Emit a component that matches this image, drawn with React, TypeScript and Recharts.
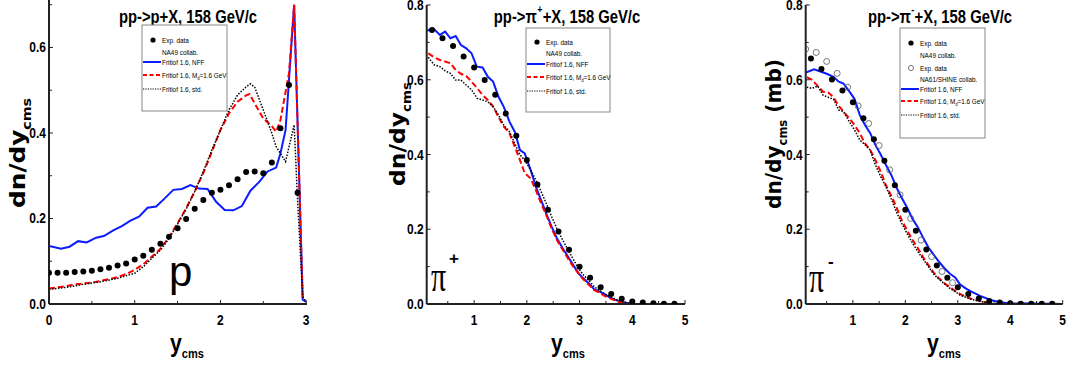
import React from 'react';
import { ComposedChart, Line, Scatter, XAxis, YAxis } from 'recharts';

// ---- panel 1: pp -> p + X ----
const pExpX = [0, 0.1, 0.2, 0.3, 0.4, 0.5, 0.6, 0.7, 0.8, 0.9, 1.0, 1.1, 1.2, 1.3, 1.4, 1.5, 1.6, 1.7, 1.8, 1.9, 2.0, 2.1, 2.2, 2.3, 2.4, 2.5, 2.6, 2.7, 2.8, 2.9];
const pExpY = [0.073, 0.073, 0.073, 0.075, 0.076, 0.078, 0.081, 0.085, 0.09, 0.095, 0.104, 0.113, 0.127, 0.141, 0.157, 0.177, 0.199, 0.223, 0.243, 0.26, 0.267, 0.278, 0.292, 0.309, 0.31, 0.306, 0.331, 0.411, 0.512, 0.26];
const pNffX = [0, 0.14, 0.24, 0.34, 0.44, 0.55, 0.64, 0.75, 0.85, 0.95, 1.05, 1.15, 1.25, 1.35, 1.45, 1.55, 1.65, 1.75, 1.85, 1.95, 2.05, 2.15, 2.25, 2.35, 2.45, 2.55, 2.65, 2.7, 2.76, 2.86, 2.96, 3.0];
const pNffY = [0.136, 0.129, 0.134, 0.147, 0.144, 0.155, 0.159, 0.172, 0.182, 0.195, 0.204, 0.225, 0.228, 0.247, 0.267, 0.269, 0.278, 0.27, 0.269, 0.239, 0.22, 0.219, 0.229, 0.265, 0.285, 0.31, 0.319, 0.352, 0.407, 0.7, 0.01, 0.005];
const pMdX = [0, 0.1, 0.2, 0.3, 0.4, 0.5, 0.6, 0.7, 0.8, 0.9, 1.0, 1.1, 1.2, 1.3, 1.4, 1.5, 1.6, 1.7, 1.8, 1.9, 2.0, 2.1, 2.2, 2.3, 2.34, 2.4, 2.5, 2.6, 2.65, 2.7, 2.8, 2.86, 2.96];
const pMdY = [0.036, 0.039, 0.042, 0.046, 0.048, 0.05, 0.054, 0.058, 0.063, 0.07, 0.08, 0.093, 0.111, 0.129, 0.156, 0.189, 0.224, 0.263, 0.306, 0.356, 0.407, 0.446, 0.473, 0.488, 0.491, 0.469, 0.434, 0.416, 0.403, 0.43, 0.54, 0.7, 0.01];
const pStdX = [0, 0.2, 0.4, 0.6, 0.8, 1.0, 1.1, 1.2, 1.3, 1.4, 1.5, 1.6, 1.7, 1.8, 1.9, 2.0, 2.1, 2.2, 2.3, 2.35, 2.4, 2.5, 2.6, 2.65, 2.76, 2.86, 2.9, 2.96, 3.0];
const pStdY = [0.034, 0.039, 0.046, 0.052, 0.06, 0.072, 0.087, 0.107, 0.126, 0.153, 0.187, 0.222, 0.263, 0.31, 0.36, 0.407, 0.454, 0.489, 0.508, 0.515, 0.507, 0.454, 0.399, 0.368, 0.333, 0.419, 0.243, 0.017, 0.005];

// ---- panel 2: pp -> pi+ + X ----
const expGridX = [0.2, 0.4, 0.6, 0.8, 1.0, 1.2, 1.4, 1.6, 1.8, 2.0, 2.2, 2.4, 2.6, 2.8, 3.0, 3.2, 3.4, 3.6, 3.8, 4.0, 4.2, 4.4, 4.6, 4.8];
const pipExpY = [0.733, 0.711, 0.69, 0.662, 0.633, 0.599, 0.56, 0.51, 0.45, 0.385, 0.32, 0.252, 0.194, 0.145, 0.1, 0.07, 0.045, 0.027, 0.014, 0.007, 0.004, 0.002, 0.001, 0.001];
const pipNffX = [0.1, 0.23, 0.35, 0.45, 0.55, 0.65, 0.75, 0.85, 0.95, 1.05, 1.16, 1.26, 1.36, 1.46, 1.56, 1.67, 1.77, 1.87, 1.96, 2.07, 2.17, 2.27, 2.38, 2.47, 2.57, 2.68, 2.78, 2.88, 2.98, 3.07, 3.18, 3.28, 3.38, 3.48, 3.58, 3.68, 3.78, 3.89, 3.99, 5.0];
const pipNffY = [0.731, 0.737, 0.72, 0.729, 0.711, 0.717, 0.693, 0.684, 0.671, 0.635, 0.633, 0.608, 0.595, 0.555, 0.528, 0.488, 0.461, 0.412, 0.403, 0.359, 0.314, 0.278, 0.238, 0.207, 0.176, 0.149, 0.127, 0.104, 0.082, 0.069, 0.054, 0.039, 0.033, 0.026, 0.017, 0.011, 0.006, 0.003, 0.001, 0];
const pipModX = [0.13, 0.24, 0.35, 0.45, 0.55, 0.65, 0.75, 0.85, 0.95, 1.06, 1.16, 1.26, 1.36, 1.46, 1.56, 1.67, 1.77, 1.87, 1.96, 2.07, 2.17, 2.27, 2.38, 2.47, 2.57, 2.68, 2.78, 2.88, 2.98, 3.07, 3.18, 3.28, 3.38, 3.48, 3.58, 3.68, 3.78, 3.89, 3.99];
const pipMdY = [0.671, 0.66, 0.653, 0.649, 0.644, 0.626, 0.616, 0.61, 0.595, 0.577, 0.559, 0.546, 0.528, 0.501, 0.475, 0.457, 0.421, 0.385, 0.35, 0.336, 0.305, 0.269, 0.234, 0.202, 0.171, 0.145, 0.122, 0.1, 0.082, 0.066, 0.051, 0.037, 0.03, 0.021, 0.015, 0.009, 0.004, 0.002, 0];
const pipStdY = [0.66, 0.64, 0.635, 0.624, 0.617, 0.599, 0.599, 0.586, 0.573, 0.55, 0.546, 0.541, 0.528, 0.506, 0.479, 0.461, 0.43, 0.399, 0.385, 0.359, 0.332, 0.301, 0.265, 0.234, 0.202, 0.171, 0.145, 0.12, 0.095, 0.078, 0.062, 0.046, 0.036, 0.027, 0.02, 0.013, 0.008, 0.004, 0.002];

// ---- panel 3: pp -> pi- + X ----
const pimExpY = [0.657, 0.629, 0.601, 0.571, 0.54, 0.497, 0.441, 0.383, 0.318, 0.252, 0.196, 0.146, 0.103, 0.07, 0.045, 0.027, 0.015, 0.008, 0.004, 0.002, 0.001, 0.001, 0.001, 0.001];
const pimShineX = [0.1, 0.3, 0.5, 0.7, 0.9, 1.1, 1.3, 1.5, 1.7, 1.9, 2.1, 2.3, 2.5, 2.7, 2.9];
const pimShineY = [0.682, 0.673, 0.649, 0.617, 0.58, 0.53, 0.483, 0.424, 0.359, 0.292, 0.229, 0.171, 0.127, 0.087, 0.057];
const pimNffX = [0.1, 0.19, 0.26, 0.38, 0.5, 0.63, 0.73, 0.82, 0.92, 1.03, 1.13, 1.23, 1.33, 1.43, 1.53, 1.63, 1.74, 1.84, 1.93, 2.03, 2.14, 2.24, 2.34, 2.44, 2.54, 2.64, 2.75, 2.85, 2.95, 3.04, 3.15, 3.25, 3.35, 3.45, 3.55, 3.65, 3.76, 3.86, 3.96, 5.0];
const pimNffY = [0.619, 0.624, 0.628, 0.622, 0.616, 0.608, 0.595, 0.59, 0.571, 0.549, 0.506, 0.479, 0.457, 0.425, 0.4, 0.372, 0.343, 0.309, 0.284, 0.259, 0.227, 0.205, 0.177, 0.151, 0.132, 0.113, 0.095, 0.081, 0.071, 0.053, 0.042, 0.034, 0.027, 0.02, 0.015, 0.01, 0.006, 0.004, 0.002, 0];
const pimModX = [0.12, 0.22, 0.33, 0.43, 0.53, 0.63, 0.73, 0.82, 0.93, 1.03, 1.13, 1.23, 1.33, 1.43, 1.53, 1.63, 1.74, 1.84, 1.93, 2.03, 2.14, 2.24, 2.34, 2.44, 2.54, 2.64, 2.75, 2.85, 2.95, 3.04, 3.15, 3.25, 3.35, 3.45, 3.55, 3.65, 3.76];
const pimMdY = [0.607, 0.6, 0.583, 0.568, 0.566, 0.553, 0.53, 0.515, 0.497, 0.479, 0.457, 0.43, 0.412, 0.385, 0.354, 0.318, 0.287, 0.256, 0.225, 0.198, 0.171, 0.149, 0.125, 0.104, 0.084, 0.069, 0.055, 0.045, 0.035, 0.027, 0.02, 0.014, 0.011, 0.007, 0.004, 0.001, 0];
const pimStdY = [0.58, 0.577, 0.583, 0.559, 0.553, 0.548, 0.519, 0.515, 0.488, 0.466, 0.439, 0.426, 0.412, 0.372, 0.341, 0.314, 0.278, 0.243, 0.216, 0.189, 0.162, 0.14, 0.12, 0.1, 0.08, 0.066, 0.054, 0.042, 0.033, 0.024, 0.018, 0.013, 0.009, 0.006, 0.004, 0.002, 0.001];

// ticks
const pXTicks = [0, 0.5, 1, 1.5, 2, 2.5, 3];
const pYTicks = [0, 0.1, 0.2, 0.3, 0.4, 0.5, 0.6, 0.7];
const piXTicks = [0.5, 1, 1.5, 2, 2.5, 3, 3.5, 4, 4.5, 5];
const piYTicks = [0, 0.1, 0.2, 0.3, 0.4, 0.5, 0.6, 0.7, 0.8];

const legendP = ['Exp. data', 'NA49 collab.', 'Fritiof 1.6, NFF', 'Fritiof 1.6, M', 'Fritiof 1.6, std.'];
const legendPim = ['Exp. data', 'NA49 collab.', 'Exp. data', 'NA61/SHINE collab.', 'Fritiof 1.6, NFF', 'Fritiof 1.6, M', 'Fritiof 1.6, std.'];

const zip = (xs: number[], ys: number[]) => xs.map((x, i) => ({ x, y: ys[i] }));

const SANS = '"Liberation Sans", Arial, sans-serif';
const WIDE = '"DejaVu Sans", Verdana, sans-serif';
const BLUE = '#0b1cff';
const RED = '#ff0000';
const AXIS = '#222';

const XTick = (props: any) => {
  const { x, y, payload } = props;
  const v = payload.value;
  const major = Math.abs(v - Math.round(v)) < 1e-6;
  return (
    <g>
      <line x1={x} x2={x} y1={y} y2={y - (major ? 4 : 3)} stroke={AXIS} strokeWidth={1} />
      {major && (
        <text transform={`translate(${x},${y + 21}) scale(0.8,1)`} textAnchor="middle" fontFamily={SANS} fontWeight="bold" fontSize={15} fill="#000">
          {v}
        </text>
      )}
    </g>
  );
};

const YTick = (props: any) => {
  const { x, y, payload } = props;
  const v = payload.value;
  const major = Math.round(v * 10) % 2 === 0;
  return (
    <g>
      <line x1={x} x2={x + (major ? 4 : 3)} y1={y} y2={y} stroke={AXIS} strokeWidth={1} />
      {major && (
        <text transform={`translate(${x - 3},${y + 5}) scale(0.8,1)`} textAnchor="end" fontFamily={SANS} fontWeight="bold" fontSize={15} fill="#000">
          {v.toFixed(1)}
        </text>
      )}
    </g>
  );
};

const dot = (props: any) => <circle cx={props.cx} cy={props.cy} r={3} fill="#000" />;
const ring = (props: any) => <circle cx={props.cx} cy={props.cy} r={3} fill="none" stroke="#555" strokeWidth={0.8} />;

type PanelProps = {
  left: number;
  width: number;
  margin: { top: number; left: number; right: number; bottom: number };
  xDomain: [number, number];
  yDomain: [number, number];
  xTicks: number[];
  yTicks: number[];
  children: React.ReactNode;
};

function Panel({ left, width, margin, xDomain, yDomain, xTicks, yTicks, children }: PanelProps) {
  return (
    <div style={{ position: 'absolute', left, top: 0 }}>
      <ComposedChart width={width} height={370} margin={margin}>
        <XAxis
          type="number"
          dataKey="x"
          domain={xDomain}
          ticks={xTicks}
          allowDataOverflow
          axisLine={{ stroke: AXIS, strokeWidth: 2 }}
          tickLine={false}
          tickSize={0}
          tickMargin={0}
          height={30}
          tick={<XTick />}
          interval={0}
        />
        <YAxis
          type="number"
          domain={yDomain}
          ticks={yTicks}
          allowDataOverflow
          axisLine={{ stroke: AXIS, strokeWidth: 2 }}
          tickLine={false}
          tickSize={0}
          tickMargin={0}
          width={40}
          tick={<YTick />}
          interval={0}
        />
        {children}
      </ComposedChart>
    </div>
  );
}

function LegendBox({ x, y, w, h, items, kinds, rows, textX }: { x: number; y: number; w: number; h: number; items: string[]; kinds: string[]; rows: number[]; textX: number }) {
  return (
    <g>
      <rect x={x} y={y} width={w} height={h} fill="#fff" stroke="#888" strokeWidth={1} />
      {items.map((t, i) => {
        const ry = rows[i];
        const k = kinds[i];
        return (
          <g key={i}>
            {k === 'dot' && <circle cx={x + 11} cy={ry} r={2.6} fill="#000" />}
            {k === 'ring' && <circle cx={x + 11} cy={ry} r={2.6} fill="none" stroke="#555" strokeWidth={0.8} />}
            {k === 'nff' && <line x1={x + 1} x2={textX - 1} y1={ry} y2={ry} stroke={BLUE} strokeWidth={2} />}
            {k === 'md' && <line x1={x + 1} x2={textX - 1} y1={ry} y2={ry} stroke={RED} strokeWidth={2} strokeDasharray="4 2.5" />}
            {k === 'std' && <line x1={x + 1} x2={textX - 1} y1={ry} y2={ry} stroke="#000" strokeWidth={1.2} strokeDasharray="1.2 1.2" />}
            <text transform={`translate(${textX},${ry + 2.5}) scale(0.85,1)`} fontFamily={SANS} fontSize={7.5} fill="#000">
              {t}
              {k === 'md' && (
                <>
                  <tspan dy={2} fontSize={4.5}>d</tspan>
                  <tspan dy={-2}>=1.6 GeV</tspan>
                </>
              )}
            </text>
          </g>
        );
      })}
    </g>
  );
}

function Title({ cx, sup }: { cx: number; sup?: string }) {
  return (
    <text transform={`translate(${cx},23) scale(0.8,1)`} textAnchor="middle" fontFamily={SANS} fontWeight="bold" fontSize={18.5} fill="#000">
      {sup ? (
        <>
          pp-&gt;π<tspan dx={0.5} dy={-10} fontSize={11}>{sup}</tspan>
          <tspan dx={0.5} dy={10}>+X, 158 GeV/c</tspan>
        </>
      ) : (
        'pp->p+X, 158 GeV/c'
      )}
    </text>
  );
}

function YLabel({ x, y, len, extra }: { x: number; y: number; len: number; extra?: string }) {
  return (
    <text transform={`translate(${x},${y}) rotate(-90)`} fontFamily={WIDE} fontWeight="bold" fontSize={21} fill="#000" textLength={len} lengthAdjust="spacingAndGlyphs">
      dn/dy
      <tspan dy={6} fontSize={12}>cms</tspan>
      {extra && <tspan dy={-6} fontSize={21}>{extra}</tspan>}
    </text>
  );
}

function XLabel({ x, y }: { x: number; y: number }) {
  return (
    <text transform={`translate(${x},${y}) scale(0.85,1)`} fontFamily={SANS} fontWeight="bold" fontSize={25} fill="#000">
      y
      <tspan dy={6} fontSize={13}>cms</tspan>
    </text>
  );
}

export default function App() {
  const pExp = zip(pExpX, pExpY);
  const pNff = zip(pNffX, pNffY);
  const pMd = zip(pMdX, pMdY);
  const pStd = zip(pStdX, pStdY);
  const pipExp = zip(expGridX, pipExpY);
  const pipNff = zip(pipNffX, pipNffY);
  const pipMd = zip(pipModX, pipMdY);
  const pipStd = zip(pipModX, pipStdY);
  const pimExp = zip(expGridX, pimExpY);
  const pimShine = zip(pimShineX, pimShineY);
  const pimNff = zip(pimNffX, pimNffY);
  const pimMd = zip(pimModX, pimMdY);
  const pimStd = zip(pimModX, pimStdY);

  const lineProps = { dataKey: 'y', dot: false, isAnimationActive: false, type: 'linear' as const };

  return (
    <div style={{ position: 'absolute', left: 0, top: 0, width: 1069, height: 370, background: '#fff', overflow: 'hidden' }}>
      <Panel left={0} width={330} margin={{ top: 0, left: 9, right: 23, bottom: 36 }} xDomain={[0, 3.01]} yDomain={[0, 0.711]} xTicks={pXTicks} yTicks={pYTicks}>
        <Line {...lineProps} data={pNff} stroke={BLUE} strokeWidth={2} />
        <Line {...lineProps} data={pMd} stroke={RED} strokeWidth={2} strokeDasharray="6 3" />
        <Line {...lineProps} data={pStd} stroke="#000" strokeWidth={1.5} strokeDasharray="1.5 1.5" />
        <Scatter data={pExp} dataKey="y" shape={dot} isAnimationActive={false} />
      </Panel>
      <Panel left={360} width={340} margin={{ top: 5, left: 26.7, right: 15, bottom: 36 }} xDomain={[0.1, 5]} yDomain={[0, 0.8]} xTicks={piXTicks} yTicks={piYTicks}>
        <Line {...lineProps} data={pipNff} stroke={BLUE} strokeWidth={2} />
        <Line {...lineProps} data={pipMd} stroke={RED} strokeWidth={2} strokeDasharray="6 3" />
        <Line {...lineProps} data={pipStd} stroke="#000" strokeWidth={1.5} strokeDasharray="1.5 1.5" />
        <Scatter data={pipExp} dataKey="y" shape={dot} isAnimationActive={false} />
      </Panel>
      <Panel left={710} width={359} margin={{ top: 5, left: 55.7, right: 6.3, bottom: 36 }} xDomain={[0.1, 5]} yDomain={[0, 0.8]} xTicks={piXTicks} yTicks={piYTicks}>
        <Line {...lineProps} data={pimNff} stroke={BLUE} strokeWidth={2} />
        <Line {...lineProps} data={pimMd} stroke={RED} strokeWidth={2} strokeDasharray="6 3" />
        <Line {...lineProps} data={pimStd} stroke="#000" strokeWidth={1.5} strokeDasharray="1.5 1.5" />
        <Scatter data={pimShine} dataKey="y" shape={ring} isAnimationActive={false} />
        <Scatter data={pimExp} dataKey="y" shape={dot} isAnimationActive={false} />
      </Panel>

      <svg width={1069} height={370} style={{ position: 'absolute', left: 0, top: 0, pointerEvents: 'none' }}>
        {/* titles */}
        <Title cx={188} />
        <Title cx={567} sup="+" />
        <Title cx={940} sup="-" />

        {/* legends */}
        <LegendBox x={142} y={25} w={85} h={86} items={legendP} kinds={['dot', 'none', 'nff', 'md', 'std']} rows={[40, 52, 62, 75, 89]} textX={162} />
        <LegendBox x={526} y={28} w={84} h={84} items={legendP} kinds={['dot', 'none', 'nff', 'md', 'std']} rows={[42, 53, 64, 77, 91]} textX={546} />
        <LegendBox x={900} y={28} w={85} h={110} items={legendPim} kinds={['dot', 'none', 'ring', 'none', 'nff', 'md', 'std']} rows={[43, 55, 68, 79, 89, 101, 115]} textX={920} />

        {/* axis titles */}
        <YLabel x={25} y={208} len={110} />
        <YLabel x={405} y={186} len={104} />
        <YLabel x={781} y={209} len={150} extra=" (mb)" />
        <XLabel x={170} y={352} />
        <XLabel x={551} y={352} />
        <XLabel x={927} y={352} />

        {/* particle labels */}
        <text x={169} y={286} fontFamily={SANS} fontSize={42} fill="#000">p</text>
        <text transform="translate(431,291) scale(0.75,1.1)" fontFamily='"Liberation Serif", serif' fontSize={40} fill="#000">π</text>
        <text x={449} y={264} fontFamily={SANS} fontWeight="bold" fontSize={17} fill="#000">+</text>
        <text transform="translate(809,292) scale(0.75,1.1)" fontFamily='"Liberation Serif", serif' fontSize={40} fill="#000">π</text>
        <text x={828} y={267} fontFamily={SANS} fontWeight="bold" fontSize={17} fill="#000">-</text>
      </svg>
    </div>
  );
}
